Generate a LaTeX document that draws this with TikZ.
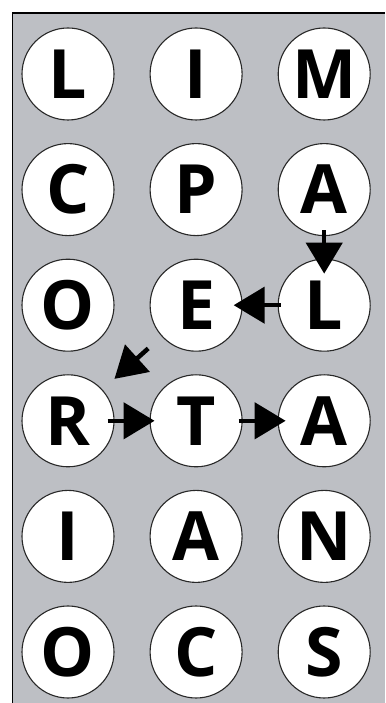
\documentclass[tikz,border=0pt]{standalone}
\usepackage{fontspec}
\setmainfont{Open Sans}
\usetikzlibrary{arrows.meta,positioning}
\definecolor{boardGray}{RGB}{189,191,196}
\definecolor{ringGray}{RGB}{40,40,40}

\begin{document}
\begin{tikzpicture}[
  x=1pt,y=1pt,
  tile/.style={
    circle,
    draw=ringGray,
    line width=1.1pt,
    fill=white,
    minimum size=92pt,
    inner sep=0pt,
    font=\fontsize{68}{68}\selectfont\bfseries
  },
  arrow/.style={-{Triangle[length=31pt,width=36pt]},line width=4.5pt,black},
  node distance=22.5pt and 35pt
]
  \useasboundingbox (0,0) rectangle (385,703);
  \fill[boardGray] (12.5,0) rectangle (385,690);
  \draw[line width=1.4pt] (385,690) -- (12.5,690) -- (12.5,0);
  % row 1
  \node[tile] (L1) at (68,629) {L};
  \node[tile,right=of L1] (I1) {I};
  \node[tile,right=of I1] (M1) {M};
  % row 2
  \node[tile,below=of L1] (C1) {C};
  \node[tile,right=of C1] (P1) {P};
  \node[tile,right=of P1] (A1) {A};
  % row 3
  \node[tile,below=of C1] (O1) {O};
  \node[tile,right=of O1] (E1) {E};
  \node[tile,right=of E1] (L2) {L};
  % row 4
  \node[tile,below=of O1] (R1) {R};
  \node[tile,right=of R1] (T1) {T};
  \node[tile,right=of T1] (A2) {A};
  % row 5
  \node[tile,below=of R1] (I2) {I};
  \node[tile,right=of I2] (A3) {A};
  \node[tile,right=of A3] (N1) {N};
  % row 6
  \node[tile,below=of I2] (O2) {O};
  \node[tile,right=of O2] (C2) {C};
  \node[tile,right=of C2] (S1) {S};
  % word path
  \draw[arrow,shorten <=-6pt,shorten >=-15pt] (A1) -- (L2);
  \draw[arrow,shorten <=-3pt,shorten >=-9pt] (L2) -- (E1);
  \draw[arrow,shorten <=18pt,shorten >=16pt] (E1) -- (R1);
  \draw[arrow,shorten <=-7pt,shorten >=-5pt] (R1) -- (T1);
  \draw[arrow,shorten <=-4pt,shorten >=-8pt] (T1) -- (A2);
\end{tikzpicture}
\end{document}
